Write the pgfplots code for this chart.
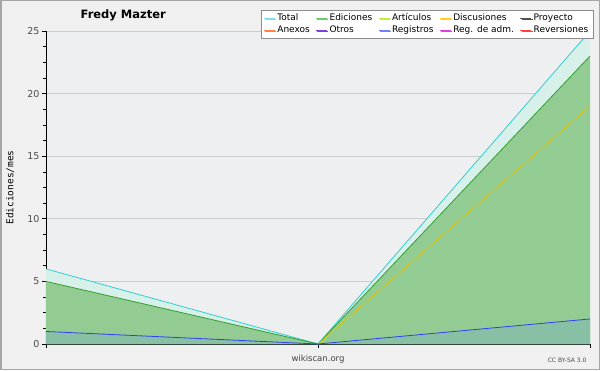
\documentclass[border=0pt]{standalone}
\usepackage{pgfplots}
\pgfplotsset{compat=1.18}
\usepackage{fontspec}
\setmainfont{DejaVu Sans}
\newfontfamily\monofont{DejaVu Sans Mono}
\usetikzlibrary{shadows}
\definecolor{bgc}{HTML}{F0F0F0}
\definecolor{plotbg}{HTML}{EEEFF0}
\definecolor{totline}{HTML}{30D0D0}
\definecolor{totfill}{HTML}{D8F0EA}
\definecolor{edline}{HTML}{30A030}
\definecolor{edfill}{HTML}{92CC92}
\definecolor{disline}{HTML}{E8C000}
\definecolor{regline}{HTML}{3040F0}
\definecolor{regfill}{HTML}{88C0A6}
\definecolor{lgTotal}{HTML}{80E0E0}
\definecolor{lgEd}{HTML}{70C870}
\definecolor{lgArt}{HTML}{C0F040}
\definecolor{lgDis}{HTML}{FFD020}
\definecolor{lgPro}{HTML}{505050}
\definecolor{lgAne}{HTML}{FF8040}
\definecolor{lgOtr}{HTML}{8040E0}
\definecolor{lgReg}{HTML}{7080FF}
\definecolor{lgRda}{HTML}{E040E0}
\definecolor{lgRev}{HTML}{FF4040}
\begin{document}
\begin{tikzpicture}[x=1pt,y=1pt]
\fill[bgc] (0,0) rectangle (600,370);
\draw[use as bounding box, draw=none] (0,0) rectangle (600,370);
\draw[color=black!35, line width=1.5pt] (0.75,0.75) rectangle (599.25,369.25);
\begin{axis}[
  at={(46pt,26pt)}, anchor=south west,
  scale only axis, width=544pt, height=313pt,
  xmin=0, xmax=2, ymin=0, ymax=25,
  axis x line*=bottom, axis y line*=left,
  axis line style={black, line width=0.8pt},
  axis background/.style={fill=plotbg},
  xtick={0,1,2}, xticklabels={}, 
  ytick={0,5,10,15,20,25},
  minor y tick num=3,
  tick align=outside,
  major tick length=4pt, minor tick length=3pt,
  tick style={black, line width=0.6pt},
  ymajorgrids, major grid style={color=black!20, line width=0.6pt},
  yticklabel style={font=\fontsize{9.5}{9.5}\selectfont, text=black!70, xshift=1pt},
  /pgf/number format/assume math mode=true,
  ylabel={\monofont Edici\-ones/mes},
  ylabel style={font=\fontsize{9.5}{9.5}\selectfont, at={(axis description cs:-0.066,0.5)}, anchor=center},
  xlabel={wikiscan.org},
  xlabel style={font=\fontsize{8.5}{9}\selectfont, text=black!75, at={(axis description cs:0.5,-0.045)}, anchor=center, yshift=-1pt},
  title={\bfseries Fredy Mazter},
  title style={font=\fontsize{11.5}{11.5}\selectfont, at={(axis description cs:0.142,1.0)}, anchor=center, yshift=10pt},
  clip=true,
  legend columns=5,
  legend cell align=left,
  legend style={at={(axis description cs:1.0055,1.067)}, anchor=north east,
    font=\fontsize{9}{9}\selectfont, draw=black!45, fill=white,
    inner xsep=2.5pt, inner ysep=1.5pt, row sep=-0.5pt,
    drop shadow={shadow xshift=1.2pt, shadow yshift=-1.2pt, fill=black!45, opacity=1},
    /tikz/every even column/.append style={column sep=4pt}},
  legend image code/.code={\draw[#1, line width=0.7pt] (0pt,0pt) -- (11pt,0pt);},
]
\addplot[fill=totfill, draw=none, forget plot] coordinates {(0,6) (1,0) (2,25)} \closedcycle;
\addplot[fill=edfill, draw=none, forget plot] coordinates {(0,5) (1,0) (2,23)} \closedcycle;
\addplot[fill=regfill, draw=none, forget plot] coordinates {(0,1) (1,0) (2,2)} \closedcycle;
\addplot[totline, line width=0.8pt, forget plot] coordinates {(0,6) (1,0) (2,25)};
\addplot[edline, line width=0.8pt, forget plot] coordinates {(0,5) (1,0) (2,23)};
\addplot[disline, line width=0.8pt, forget plot] coordinates {(1,0) (2,19)};
\addplot[regline, line width=0.8pt, forget plot] coordinates {(0,1) (1,0) (2,2)};
\addlegendimage{lgTotal}\addlegendentry{Total}
\addlegendimage{lgEd}\addlegendentry{Ediciones}
\addlegendimage{lgArt}\addlegendentry{Artículos}
\addlegendimage{lgDis}\addlegendentry{Discusiones}
\addlegendimage{lgPro}\addlegendentry{Proyecto}
\addlegendimage{lgAne}\addlegendentry{Anexos}
\addlegendimage{lgOtr}\addlegendentry{Otros}
\addlegendimage{lgReg}\addlegendentry{Registros}
\addlegendimage{lgRda}\addlegendentry{Reg. de adm.}
\addlegendimage{lgRev}\addlegendentry{Reversiones}
\end{axis}
\node[font=\fontsize{6}{6}\selectfont, text=black!70, anchor=east] at (590,10) {CC BY-SA 3.0};
\end{tikzpicture}
\end{document}
